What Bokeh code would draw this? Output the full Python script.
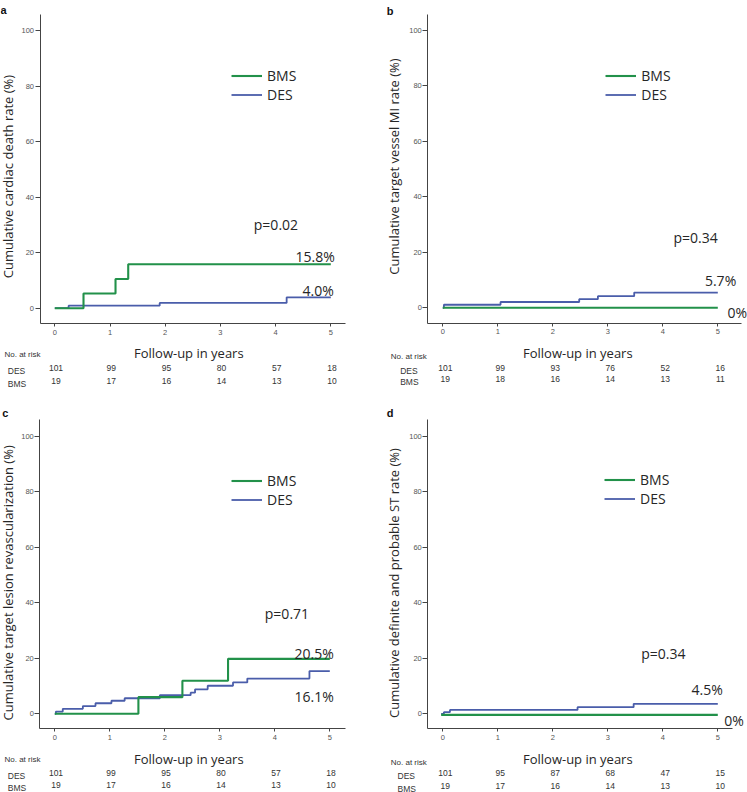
import math
from bokeh.plotting import figure
from bokeh.models import Label, LabelSet, ColumnDataSource, Legend, LegendItem, Range1d, FixedTicker
from bokeh.layouts import column, row
from bokeh.embed import file_html
from bokeh.resources import INLINE
from bokeh.core.properties import value

# ---------------- data ----------------
years = [0, 1, 2, 3, 4, 5]
y_ticks = [0, 20, 40, 60, 80, 100]

# panel a: cardiac death
a_bms_t = [0.0, 0.52, 1.10, 1.33, 5.0]
a_bms_y = [0.0, 5.3, 10.5, 15.8, 15.8]
a_des_t = [0.0, 0.25, 1.90, 4.20, 5.0]
a_des_y = [0.0, 0.9, 1.9, 3.9, 3.9]
a_des_risk = [101, 99, 95, 80, 57, 18]
a_bms_risk = [19, 17, 16, 14, 13, 10]

# panel b: target vessel MI
b_bms_t = [0.0, 5.0]
b_bms_y = [0.0, 0.0]
b_des_t = [0.0, 0.02, 1.05, 2.48, 2.82, 3.48, 5.0]
b_des_y = [0.0, 1.1, 2.1, 3.1, 4.2, 5.5, 5.5]
b_des_risk = [101, 99, 93, 76, 52, 16]
b_bms_risk = [19, 18, 16, 14, 13, 11]

# panel c: target lesion revascularization
c_bms_t = [0.0, 1.52, 2.32, 3.15, 5.0]
c_bms_y = [0.0, 6.0, 11.9, 19.8, 19.8]
c_des_t = [0.0, 0.02, 0.145, 0.51, 0.74, 1.03, 1.27, 1.91, 2.47, 2.55, 2.78, 3.24, 3.50, 4.63, 5.0]
c_des_y = [0.0, 0.8, 1.8, 2.8, 3.8, 4.7, 5.6, 6.7, 7.6, 8.8, 10.1, 11.3, 12.7, 15.4, 15.4]
c_des_risk = [101, 99, 95, 80, 57, 18]
c_bms_risk = [19, 17, 16, 14, 13, 10]

# panel d: definite and probable ST
d_bms_t = [-0.03, 5.0]
d_bms_y = [-0.4, -0.4]
d_des_t = [-0.03, 0.02, 0.13, 2.45, 3.47, 5.0]
d_des_y = [0.0, 0.6, 1.4, 2.4, 3.6, 3.6]
d_des_risk = [101, 95, 87, 68, 47, 15]
d_bms_risk = [19, 17, 16, 14, 13, 10]

# ---------------- styling ----------------
S = 1.0
HUM = "Open Sans"
ARI = "Liberation Sans"
TXT = "#262626"
GREEN = "#22914A"
BLUE = "#4A5DAA"


def fs(v):
    return f"{v * S:.1f}px"


def make_panel(letter, ox, oy, fw, fh, frame, xt0, xt5, yt0, yt100,
               bms_t, bms_y, des_t, des_y, des_risk, bms_risk,
               ytitle, ytitle_c, xtitle_c, p_text, p_pos, bms_pct, bms_pos, bms_align,
               des_pct, des_pos, des_align, leg, risk, letter_pos):
    fl, fr, ft, fb = frame
    xppu = (xt5 - xt0) / 5.0
    yppu = (yt0 - yt100) / 100.0

    def xd(X):
        return (X - xt0) / xppu

    def yd(Y):
        return (yt0 - Y) / yppu

    # the frame spans the whole panel; axes sit at fixed locations inside it
    p = figure(width=fw, height=fh, output_backend="svg", toolbar_location=None,
               x_range=Range1d(xd(ox), xd(ox + fw / S)),
               y_range=Range1d(yd(oy + fh / S), yd(oy)),
               min_border=0)
    p.outline_line_color = None
    p.xgrid.visible = False
    p.ygrid.visible = False
    p.background_fill_color = "white"
    p.border_fill_color = "white"

    for ax in (p.xaxis, p.yaxis):
        ax.axis_line_color = "#444444"
        ax.axis_line_width = 1
        ax.major_tick_line_color = "#444444"
        ax.minor_tick_line_color = None
        ax.major_tick_in = 0
        ax.major_label_text_font = ARI
        ax.major_label_text_font_size = fs(7.5)
        ax.major_label_text_color = "#555555"
    p.xaxis.ticker = FixedTicker(ticks=years)
    p.yaxis.ticker = FixedTicker(ticks=y_ticks)
    p.xaxis.fixed_location = yd(fb)
    p.yaxis.fixed_location = xd(fl)
    p.xaxis.bounds = (xd(fl), xd(fr))
    p.yaxis.bounds = (yd(fb), yd(ft))
    p.xaxis.major_tick_out = 3
    p.xaxis.major_label_standoff = 3
    p.yaxis.major_tick_out = 5
    p.yaxis.major_label_standoff = 1

    # curves
    rd = p.step(des_t, des_y, mode="after", line_color=BLUE, line_width=1.8)
    rb = p.step(bms_t, bms_y, mode="after", line_color=GREEN, line_width=2.1)

    # legend
    H = 19
    lx0, lx1, ly1 = leg
    ltop = (ly1 - oy) * S - H / 2.0
    legend = Legend(items=[LegendItem(label="BMS", renderers=[rb]),
                           LegendItem(label="DES", renderers=[rd])],
                    location=((lx0 - ox) * S, fh - (ltop + 2 * H)),
                    padding=0, margin=0, spacing=0,
                    glyph_width=round((lx1 - lx0) * S), glyph_height=H, label_height=H,
                    label_standoff=5, border_line_color=None, background_fill_alpha=0,
                    label_text_font=HUM, label_text_font_size=fs(14), label_text_color=TXT)
    p.add_layout(legend)

    def lab(text, X, Y, size, font=HUM, align="left", baseline="alphabetic", angle=0.0,
            style="normal", color=TXT):
        p.add_layout(Label(x=xd(X), y=yd(Y), text=text, text_font=font,
                           text_font_size=fs(size), text_align=align, text_baseline=baseline,
                           angle=angle, text_font_style=style, text_color=color))

    # titles
    lab(ytitle, ytitle_c[0], ytitle_c[1], 13, align="center", baseline="middle", angle=math.pi / 2)
    lab("Follow-up in years", xtitle_c[0], xtitle_c[1], 13, align="center")
    # annotations
    lab(p_text, p_pos[0], p_pos[1], 14)
    lab(bms_pct, bms_pos[0], bms_pos[1], 14, align=bms_align)
    lab(des_pct, des_pos[0], des_pos[1], 14, align=des_align)
    lab(letter, letter_pos[0], letter_pos[1], 11, font=ARI, style="bold", color="#111111")

    # risk table
    nr_x, nr_y, row_x, des_y_b, bms_y_b, xoff = risk
    lab("No. at risk", nr_x, nr_y, 8.0, font=ARI, color="#333333")
    lab("DES", row_x, des_y_b, 8.5, font=ARI, color="#333333")
    lab("BMS", row_x, bms_y_b, 8.5, font=ARI, color="#333333")
    for vals, yb in ((des_risk, des_y_b), (bms_risk, bms_y_b)):
        src = ColumnDataSource(dict(x=years, y=[yd(yb)] * len(years), t=[str(v) for v in vals]))
        p.add_layout(LabelSet(x="x", y="y", text="t", source=src, x_offset=xoff * S,
                              text_font=value(ARI), text_font_size=value(fs(8.5)),
                              text_color="#333333",
                              text_align="center", text_baseline="alphabetic"))
    return p


pa = make_panel("a", 0, 0, 373, 390, (39.5, 345, 14, 323), 54.3, 330.3, 307.7, 30,
                a_bms_t, a_bms_y, a_des_t, a_des_y, a_des_risk, a_bms_risk,
                "Cumulative cardiac death rate (%)", (7.5, 176), (188.3, 352.3),
                "p=0.02", (253.3, 224), "15.8%", (334.3, 256), "right",
                "4.0%", (333.3, 290), "right",
                (231, 262, 75), (4, 354, 7.3, 370.7, 383.3, 1.2), (0, 9.3))

pb = make_panel("b", 373, 0, 374, 390, (427.3, 741, 14, 322.7), 442.3, 717.3, 307.3, 30,
                b_bms_t, b_bms_y, b_des_t, b_des_y, b_des_risk, b_bms_risk,
                "Cumulative target vessel MI rate (%)", (393.5, 166), (577.3, 352.3),
                "p=0.34", (673, 237.3), "0%", (727, 311.7), "left",
                "5.7%", (735.7, 280), "right",
                (605.3, 636.3, 75.3), (390.3, 356, 399.7, 370.7, 381, 2.5), (386.3, 10))

pc = make_panel("c", 0, 390, 373, 402, (39.3, 345, 419, 728.3), 54.3, 329.3, 713.3, 435.7,
                c_bms_t, c_bms_y, c_des_t, c_des_y, c_des_risk, c_bms_risk,
                "Cumulative target lesion revascularization (%)", (7.5, 582.3), (188.3, 758.3),
                "p=0.71", (264.3, 612.7), "20.5%", (333.3, 652.7), "right",
                "16.1%", (333.3, 696), "right",
                (231, 262, 480), (4, 759.3, 7.3, 775.5, 787.5, 1.2), (1.7, 412.7))

pd_ = make_panel("d", 373, 390, 374, 402, (427.3, 732.3, 419, 728.3), 442.3, 717.3, 713.3, 435.7,
                 d_bms_t, d_bms_y, d_des_t, d_des_y, d_des_risk, d_bms_risk,
                 "Cumulative definite  and probable ST rate (%)", (393.5, 580.8), (577.3, 758.3),
                 "p=0.34", (640.7, 652.7), "0%", (723.7, 720), "left",
                 "4.5%", (722.3, 689.3), "right",
                 (604, 634.7, 479.3), (390.3, 761.7, 397, 775.5, 788, 2.5), (386.3, 412.7))

layout = column(row(pa, pb), row(pc, pd_))
open("out.html", "w").write(file_html(layout, INLINE))
